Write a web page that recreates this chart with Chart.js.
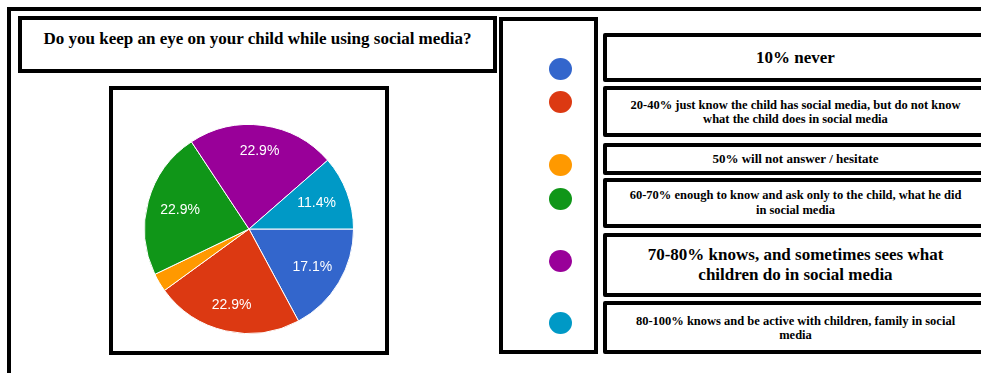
<!DOCTYPE html>
<html><head><meta charset="utf-8">
<script src="https://cdn.jsdelivr.net/npm/chart.js@4/dist/chart.umd.min.js"></script>
<style>
html,body{margin:0;padding:0;background:#fff;width:981px;height:373px;overflow:hidden;position:relative;}
.box{position:absolute;box-sizing:border-box;border:4px solid #000;background:#fff;}
.serif{font-family:"Liberation Serif","Times New Roman",serif;font-weight:bold;color:#000;text-align:center;}
.lbl{display:flex;align-items:center;justify-content:center;white-space:pre-line;border-radius:2px;}
.dot{position:absolute;width:23px;height:22px;border-radius:50%;}
</style></head><body>
<div class="box" style="left:7px;top:7px;width:1000px;height:400px;"></div>
<div id="title" class="box serif" style="left:18px;top:16px;width:479px;height:57px;font-size:17px;line-height:20px;padding-top:9px;"></div>
<div class="box" style="left:109px;top:86px;width:280px;height:269px;"></div>
<canvas id="pie" width="216" height="216" style="position:absolute;left:141px;top:121px;"></canvas>
<div class="box" style="left:499px;top:17px;width:99px;height:337px;"></div>
<div id="legend"></div>
<script>
const chartTitle = "Do you keep an eye on your child while using social media?";
const categories = [
  "10% never",
  "20-40% just know the child has social media, but do not know\nwhat the child does in social media",
  "50% will not answer / hesitate",
  "60-70% enough to know and ask only to the child, what he did\nin social media",
  "70-80% knows, and sometimes sees what\nchildren do in social media",
  "80-100% knows and be active with children, family in social\nmedia"
];
const counts = [6, 8, 1, 8, 8, 4];
const colors = ["#3366cc", "#dc3912", "#ff9900", "#109618", "#990099", "#0099c6"];

// layout (positions/styles only)
const boxLayout = [
  {top:33, bottom:82, size:17, lh:20},
  {top:86, bottom:137, size:12.5, lh:14},
  {top:143, bottom:175, size:13, lh:14},
  {top:178, bottom:228, size:12.5, lh:15},
  {top:233, bottom:297, size:17, lh:20},
  {top:301, bottom:354, size:12.5, lh:14}
];
const dotY = [69, 102, 165, 199, 261, 323];

document.getElementById('title').textContent = chartTitle;
const legend = document.getElementById('legend');
categories.forEach((c, i) => {
  const L = boxLayout[i];
  const b = document.createElement('div');
  b.className = 'box serif lbl';
  b.style.left = '603px'; b.style.width = '385px';
  b.style.top = L.top + 'px'; b.style.height = (L.bottom - L.top) + 'px';
  b.style.fontSize = L.size + 'px'; b.style.lineHeight = L.lh + 'px';
  b.textContent = c;
  legend.appendChild(b);
  const d = document.createElement('div');
  d.className = 'dot';
  d.style.background = colors[i];
  d.style.left = (560 - 11.5) + 'px';
  d.style.top = (dotY[i] - 11) + 'px';
  legend.appendChild(d);
});

const total = counts.reduce((a, b) => a + b, 0);
const pieLabels = {
  id: 'pieLabels',
  afterDatasetsDraw(chart) {
    const ctx = chart.ctx;
    const meta = chart.getDatasetMeta(0);
    ctx.save();
    ctx.font = '14px "Liberation Sans", Arial, sans-serif';
    ctx.fillStyle = '#ffffff';
    ctx.textAlign = 'center';
    ctx.textBaseline = 'middle';
    meta.data.forEach((arc, i) => {
      const pct = counts[i] / total * 100;
      if (pct < 5) return;
      const p = arc.getProps(['x', 'y', 'startAngle', 'endAngle', 'outerRadius'], true);
      const mid = (p.startAngle + p.endAngle) / 2;
      const d = p.outerRadius * (0.66 + 0.09 * Math.abs(Math.sin(mid)));
      ctx.fillText(pct.toFixed(1) + '%', p.x + Math.cos(mid) * d, p.y + Math.sin(mid) * d);
    });
    ctx.restore();
  }
};

new Chart(document.getElementById('pie'), {
  type: 'pie',
  data: {
    labels: categories,
    datasets: [{ data: counts, backgroundColor: colors, borderColor: '#ffffff', borderWidth: 1 }]
  },
  options: {
    responsive: false,
    animation: false,
    rotation: 90,
    layout: { padding: 3 },
    plugins: { legend: { display: false }, tooltip: { enabled: false } }
  },
  plugins: [pieLabels]
});
</script>
</body></html>
